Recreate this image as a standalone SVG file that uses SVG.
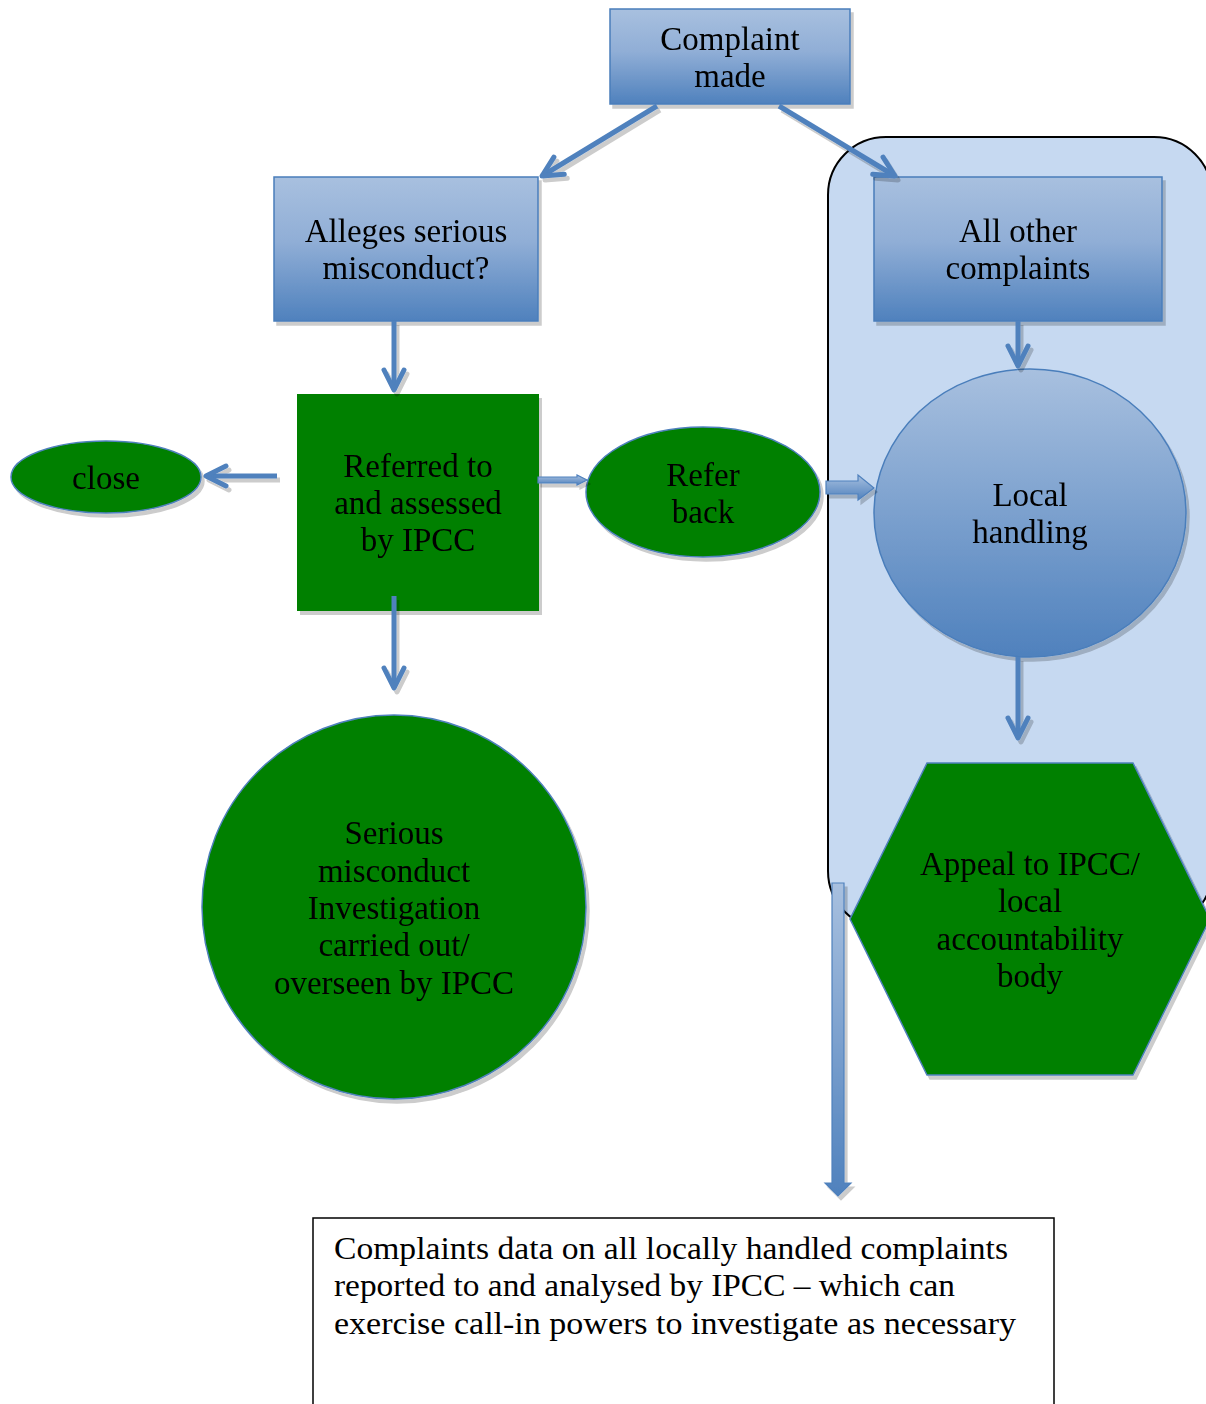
<svg xmlns="http://www.w3.org/2000/svg" width="1206" height="1404" viewBox="0 0 1206 1404">
<defs>
<linearGradient id="bg" x1="0" y1="0" x2="0" y2="1">
<stop offset="0" stop-color="#a8c0df"/>
<stop offset="0.45" stop-color="#90aed6"/>
<stop offset="1" stop-color="#4f81bd"/>
</linearGradient>
<linearGradient id="bgh" x1="0" y1="0" x2="0" y2="1">
<stop offset="0" stop-color="#a8c0df"/>
<stop offset="1" stop-color="#4f81bd"/>
</linearGradient>
<filter id="sh" x="-10%" y="-10%" width="130%" height="130%">
<feOffset in="SourceAlpha" dx="3" dy="4" result="o"/>
<feFlood flood-color="#000" flood-opacity="0.2"/>
<feComposite in2="o" operator="in" result="s"/>
<feMerge><feMergeNode in="s"/><feMergeNode in="SourceGraphic"/></feMerge>
</filter>
<marker id="ah" markerUnits="userSpaceOnUse" markerWidth="40" markerHeight="40" viewBox="-30 -20 40 40" refX="0" refY="0" orient="auto" overflow="visible">
<path d="M-20,-10 L0,0 L-20,10" fill="none" stroke="#4f81bd" stroke-width="5" stroke-linecap="round" stroke-linejoin="round"/>
</marker>
</defs>
<style>
text{font-family:"Liberation Serif","Times New Roman",serif;font-size:33px;fill:#000;text-anchor:middle}
.blue{fill:url(#bg);stroke:#4a7ebb;stroke-width:1.5}
.green{fill:#008000;stroke:#4f81bd;stroke-width:1.5}
.conn{fill:none;stroke:#4f81bd;stroke-width:5;marker-end:url(#ah)}
.block{fill:url(#bgh);stroke:#4f81bd;stroke-width:1.2}
.note{text-anchor:start;font-size:31px}
</style>

<g id="local-area">
<rect x="828" y="137" width="384" height="792" rx="58" ry="58" fill="#c6d9f1" stroke="#000" stroke-width="2"/>
</g>

<g id="complaint-made" filter="url(#sh)">
<rect class="blue" x="610" y="9" width="240" height="95"/>
<text x="730" y="50">Complaint</text>
<text x="730" y="87">made</text>
</g>

<g id="alleges" filter="url(#sh)">
<rect class="blue" x="274" y="177" width="264" height="144"/>
<text x="406" y="242">Alleges serious</text>
<text x="406" y="279">misconduct?</text>
</g>

<g id="all-other" filter="url(#sh)">
<rect class="blue" x="874" y="177" width="288" height="144"/>
<text x="1018" y="242">All other</text>
<text x="1018" y="279">complaints</text>
</g>

<g id="referred" filter="url(#sh)">
<rect x="297" y="394" width="242" height="217" fill="#008000"/>
<text x="418" y="477">Referred to</text>
<text x="418" y="514">and assessed</text>
<text x="418" y="551">by IPCC</text>
</g>

<g id="close" filter="url(#sh)">
<ellipse class="green" cx="106" cy="477" rx="95" ry="36"/>
<text x="106" y="489">close</text>
</g>

<g id="refer-back" filter="url(#sh)">
<ellipse class="green" cx="703" cy="492" rx="117" ry="65"/>
<text x="703" y="486">Refer</text>
<text x="703" y="523">back</text>
</g>

<g id="local-handling" filter="url(#sh)">
<ellipse cx="1030" cy="513" rx="156" ry="144" fill="url(#bgh)" stroke="#4a7ebb" stroke-width="1.5"/>
<text x="1030" y="506">Local</text>
<text x="1030" y="543">handling</text>
</g>

<g id="serious" filter="url(#sh)">
<circle class="green" cx="394" cy="907" r="192"/>
<text x="394" y="844">Serious</text>
<text x="394" y="882">misconduct</text>
<text x="394" y="919">Investigation</text>
<text x="394" y="956">carried out/</text>
<text x="394" y="994">overseen by IPCC</text>
</g>

<g id="appeal" filter="url(#sh)">
<polygon class="green" points="927,763 1133,763 1210,919 1133,1075 927,1075 850,919"/>
<text x="1030" y="875">Appeal to IPCC/</text>
<text x="1030" y="912">local</text>
<text x="1030" y="950">accountability</text>
<text x="1030" y="987">body</text>
</g>

<g id="complaints-data">
<rect x="313" y="1218" width="741" height="200" fill="#fff" stroke="#000" stroke-width="1.5"/>
<text class="note" x="334" y="1259" textLength="674" lengthAdjust="spacingAndGlyphs">Complaints data on all locally handled complaints</text>
<text class="note" x="334" y="1296" textLength="621" lengthAdjust="spacingAndGlyphs">reported to and analysed by IPCC – which can</text>
<text class="note" x="334" y="1334" textLength="682" lengthAdjust="spacingAndGlyphs">exercise call-in powers to investigate as necessary</text>
</g>

<g id="connectors" filter="url(#sh)">
<line class="conn" x1="657" y1="106" x2="542" y2="176"/>
<line class="conn" x1="779" y1="106" x2="895" y2="176"/>
<line class="conn" x1="394" y1="321" x2="394" y2="390"/>
<line class="conn" x1="394" y1="596" x2="394" y2="688"/>
<line class="conn" x1="277" y1="476" x2="206" y2="476"/>
<line class="conn" x1="1018" y1="321" x2="1018" y2="366"/>
<line class="conn" x1="1018" y1="657" x2="1018" y2="738"/>
<polygon class="block" points="538,477 577,477 577,475 587,480 577,485 577,483 538,483"/>
<polygon class="block" points="826,481 858,481 858,475 874,488 858,500 858,494 826,494"/>
<polygon class="block" points="832,883 844,883 844,1183 851,1183 838,1196 825,1183 832,1183"/>
</g>
</svg>
